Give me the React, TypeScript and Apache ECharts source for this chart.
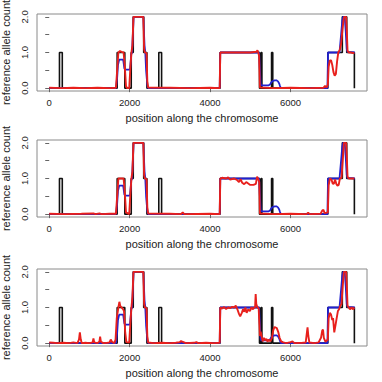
import React, { useEffect, useRef } from "react";
import * as echarts from "echarts";

// true copy number (step function), [position, count]
const trueCount: number[][] = [
  [0, 0], [255, 0], [255, 1], [325, 1], [325, 0], [1690, 0], [1690, 1], [1880, 1], [1880, 0],
  [2040, 0], [2040, 1], [2090, 1], [2090, 2], [2350, 2], [2350, 1], [2430, 1], [2430, 0],
  [2725, 0], [2725, 1], [2795, 1], [2795, 0], [4250, 0], [4250, 1], [5230, 1], [5230, 0],
  [5270, 0], [5270, 1], [5290, 1], [5290, 0], [5530, 0], [5530, 1], [5560, 1], [5560, 0],
  [6930, 0], [6930, 1], [7290, 1], [7290, 2], [7400, 2], [7400, 1], [7590, 1], [7590, 0],
];

// estimate from first method (blue), same in all panels
const blueEstimate: number[][] = [
  [0, 0], [1660, 0], [1690, 0.3], [1710, 0.65], [1740, 0.8], [1840, 0.8], [1870, 0.55], [1890, 0.52],
  [2010, 0.52], [2040, 0.95], [2060, 1.0], [2080, 1.5], [2100, 2.0], [2340, 2.0], [2370, 1.2],
  [2390, 1.0], [2410, 0.5], [2440, 0.1], [2460, 0], [4240, 0], [4255, 1.0], [5220, 1.0], [5240, 0.5],
  [5260, 0.1], [5280, 0.08], [5460, 0.08], [5490, 0.1], [5520, 0.16], [5560, 0.2], [5610, 0.22],
  [5650, 0.22], [5690, 0.19], [5720, 0.13], [5740, 0.06], [5760, 0], [6920, 0], [6935, 1.0],
  [7220, 1.0], [7260, 1.5], [7290, 1.9], [7310, 2.0], [7350, 2.0], [7375, 1.6], [7400, 1.1],
  [7420, 1.02], [7600, 1.0],
];

// estimates from second method (red), one per panel
const redPanel1: number[][] = [
  [0, 0.01], [300, 0], [600, 0.01], [900, 0], [1200, 0.01], [1500, 0], [1660, 0.01], [1690, 0.5],
  [1720, 1.0], [1760, 1.04], [1800, 1.02], [1850, 1.0], [1880, 0.6], [1910, 0.05], [1940, 0],
  [1990, 0], [2020, 0.6], [2045, 1.0], [2070, 1.2], [2095, 2.0], [2340, 2.0], [2360, 1.1],
  [2380, 1.0], [2420, 0.98], [2440, 0.2], [2460, 0.02], [3000, 0.01], [3500, 0], [4000, 0.01],
  [4240, 0], [4255, 1.0], [4600, 1.0], [5000, 1.0], [5150, 1.02], [5180, 1.06], [5200, 1.0],
  [5220, 0.9], [5240, 0.02], [5600, 0], [6000, 0.01], [6500, 0], [6820, 0.01], [6860, 0.06],
  [6900, 0.02], [6930, 0.1], [6950, 0.6], [6980, 0.78], [7010, 0.78], [7040, 0.65], [7070, 0.45],
  [7100, 0.35], [7130, 0.4], [7160, 0.75], [7190, 1.0], [7230, 1.08], [7260, 1.25], [7290, 1.6],
  [7320, 1.9], [7335, 2.0], [7385, 2.0], [7405, 1.5], [7420, 1.05], [7450, 1.0], [7500, 1.0],
  [7560, 0.98], [7590, 1.0],
];

const redPanel2: number[][] = [
  [0, 0.01], [400, 0], [800, 0.01], [1100, 0.02], [1150, 0], [1250, 0.02], [1300, 0], [1500, 0.01],
  [1660, 0.01], [1690, 0.5], [1720, 1.0], [1850, 1.0], [1880, 0.6], [1910, 0.05], [1990, 0],
  [2020, 0.6], [2045, 1.0], [2070, 1.2], [2095, 2.0], [2340, 2.0], [2360, 1.1], [2380, 1.0],
  [2420, 0.98], [2440, 0.2], [2460, 0.02], [3000, 0.01], [3280, 0], [3320, 0.05], [3360, 0],
  [4000, 0.01], [4240, 0], [4255, 1.0], [4300, 1.02], [4400, 1.0], [4450, 1.03], [4500, 0.97],
  [4600, 1.0], [4680, 0.95], [4720, 0.9], [4760, 0.98], [4800, 0.88], [4850, 0.84], [4900, 0.9],
  [4950, 0.86], [5000, 0.82], [5080, 0.82], [5140, 0.85], [5170, 1.05], [5200, 0.98], [5225, 0.9],
  [5240, 0.02], [5600, 0], [6000, 0.01], [6400, 0], [6440, 0.04], [6480, 0], [6750, 0.01],
  [6790, 0.1], [6820, 0.12], [6850, 0.03], [6930, 0.05], [6950, 0.8], [6980, 1.0], [7020, 0.97],
  [7050, 0.86], [7080, 0.85], [7110, 0.97], [7140, 0.85], [7170, 0.8], [7200, 0.82], [7230, 1.0],
  [7270, 1.02], [7300, 1.5], [7330, 2.0], [7385, 2.0], [7405, 1.5], [7420, 1.05], [7450, 1.0],
  [7500, 1.0], [7590, 1.0],
];

const redPanel3: number[][] = [
  [0, 0.02], [100, 0.01], [200, 0], [350, 0.01], [500, 0], [600, 0.02], [700, 0], [740, 0.1],
  [762, 0.3], [785, 0.1], [810, 0], [900, 0.01], [1000, 0], [1080, 0.02], [1100, 0.13], [1120, 0.02],
  [1200, 0], [1250, 0.05], [1266, 0.18], [1285, 0.04], [1350, 0], [1450, 0.01], [1500, 0.02],
  [1530, 0.1], [1560, 0.04], [1620, 0], [1650, 0.1], [1680, 0.7], [1720, 1.0], [1745, 1.16],
  [1765, 1.05], [1800, 1.0], [1840, 0.95], [1860, 0.9], [1890, 0.3], [1920, 0.03], [1990, 0.02],
  [2020, 0.6], [2045, 1.0], [2070, 1.3], [2095, 2.0], [2340, 2.0], [2360, 1.1], [2380, 1.0],
  [2420, 0.98], [2440, 0.2], [2460, 0.02], [2600, 0], [2800, 0.01], [3000, 0], [3150, 0.01],
  [3250, 0.03], [3280, 0.06], [3310, 0.04], [3400, 0], [3600, 0.01], [3660, 0.03], [3700, 0],
  [3900, 0.01], [4100, 0], [4240, 0.01], [4255, 1.0], [4300, 0.97], [4350, 1.01], [4400, 0.96],
  [4450, 1.0], [4500, 0.98], [4550, 1.02], [4600, 1.0], [4640, 1.05], [4680, 0.95], [4720, 0.82],
  [4750, 0.75], [4790, 0.85], [4820, 0.95], [4850, 0.88], [4880, 1.0], [4910, 0.85], [4950, 0.95],
  [4990, 0.9], [5030, 1.0], [5070, 0.95], [5100, 1.0], [5120, 1.0], [5135, 1.38], [5150, 1.1],
  [5180, 1.0], [5210, 0.97], [5225, 0.6], [5240, 0.2], [5260, 0.32], [5290, 0.15], [5310, 0.05],
  [5340, 0.15], [5370, 0.08], [5400, 0.12], [5430, 0.04], [5460, 0.1], [5500, 0.05], [5540, 0.15],
  [5570, 0.35], [5600, 0.45], [5630, 0.44], [5660, 0.42], [5700, 0.3], [5730, 0.15], [5770, 0.05],
  [5820, 0.02], [5900, 0], [6000, 0.03], [6050, 0.05], [6100, 0], [6300, 0.01], [6380, 0.02],
  [6410, 0.3], [6425, 0.44], [6445, 0.2], [6470, 0.02], [6600, 0], [6700, 0.02], [6760, 0.15],
  [6790, 0.35], [6810, 0.38], [6830, 0.15], [6870, 0.04], [6930, 0.1], [6950, 0.7], [6980, 0.85],
  [7010, 0.8], [7040, 0.65], [7060, 0.7], [7090, 0.3], [7120, 0.5], [7150, 0.7], [7180, 0.9],
  [7210, 0.95], [7240, 1.05], [7270, 1.1], [7300, 1.6], [7330, 2.0], [7385, 2.0], [7405, 1.5],
  [7420, 1.05], [7450, 1.0], [7480, 0.95], [7520, 1.0], [7560, 0.95], [7590, 1.0],
];

const redPanels = [redPanel1, redPanel2, redPanel3];
const xTicks = [0, 2000, 4000, 6000];
const yTicks = [0, 0.5, 1, 1.5, 2];
const yLabels = [0, 1, 2];
const xTitle = "position along the chromosome";
const yTitle = "reference allele count";

const FONT = "Liberation Sans, Arial, Helvetica, sans-serif";

export default function App() {
  const ref = useRef<HTMLDivElement>(null);
  useEffect(() => {
    if (!ref.current) return;
    const chart = echarts.init(ref.current, null, { renderer: "svg" });
    const tops = [14, 140, 269];
    const grids = tops.map((t) => ({
      left: 37, right: 15, top: t, height: 77, show: true,
      containLabel: false, outerBoundsMode: "none",
      borderColor: "#8a8a8a", borderWidth: 1, backgroundColor: "transparent",
    }));
    const xAxes = tops.map((_, i) => ({
      gridIndex: i, type: "value", min: -304, max: 7904,
      axisLine: { show: false }, splitLine: { show: false },
      axisTick: { show: true, customValues: xTicks, length: 4, lineStyle: { color: "#666" } },
      axisLabel: {
        customValues: xTicks, fontSize: 9.5, color: "#222", margin: 6, fontFamily: FONT,
        formatter: (v: number) => String(v),
      },
      name: xTitle, nameLocation: "middle", nameGap: 21,
      nameTextStyle: { fontSize: 11, color: "#222", fontFamily: FONT },
    }));
    const yAxes = tops.map((_, i) => ({
      gridIndex: i, type: "value", min: -0.08, max: 2.08,
      axisLine: { show: false }, splitLine: { show: false },
      axisTick: { show: true, customValues: yTicks, length: 4, lineStyle: { color: "#666" } },
      axisLabel: {
        customValues: yLabels, fontSize: 9.5, color: "#222", margin: 8, rotate: 90,
        fontFamily: FONT, formatter: (v: number) => v.toFixed(1),
      },
      name: yTitle, nameLocation: "middle", nameGap: 20,
      nameTextStyle: { fontSize: 11, color: "#222", fontFamily: FONT },
    }));
    const series: any[] = [];
    tops.forEach((_, i) => {
      series.push({
        type: "line", xAxisIndex: i, yAxisIndex: i, data: trueCount, symbol: "none",
        lineStyle: { color: "#111", width: 1.6 }, z: 1,
      });
      series.push({
        type: "line", xAxisIndex: i, yAxisIndex: i, data: blueEstimate, symbol: "none",
        lineStyle: { color: "#2020d0", width: 1.8 }, z: 2,
      });
      series.push({
        type: "line", xAxisIndex: i, yAxisIndex: i, data: redPanels[i], symbol: "none",
        lineStyle: { color: "#e8201c", width: 1.9 }, z: 3,
      });
    });
    chart.setOption({
      animation: false,
      backgroundColor: "#fff",
      grid: grids,
      xAxis: xAxes,
      yAxis: yAxes,
      series,
    });
    return () => chart.dispose();
  }, []);
  return (
    <div
      ref={ref}
      style={{ position: "fixed", left: 0, top: 0, width: 382, height: 382 }}
    />
  );
}
